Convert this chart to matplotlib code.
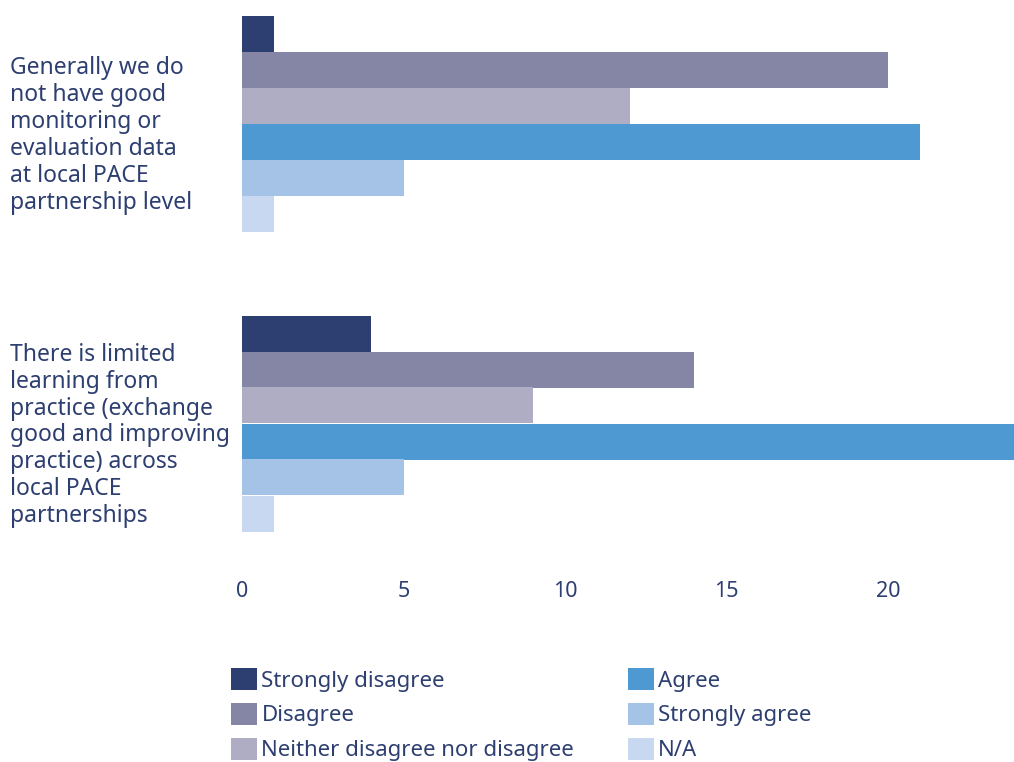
import matplotlib
matplotlib.use("Agg")
import matplotlib.pyplot as plt
from matplotlib.patches import Patch
import numpy as np

plt.rcParams['font.family'] = ['Noto Sans', 'DejaVu Sans']

categories = [
    "Generally we do\nnot have good\nmonitoring or\nevaluation data\nat local PACE\npartnership level",
    "There is limited\nlearning from\npractice (exchange\ngood and improving\npractice) across\nlocal PACE\npartnerships",
]
series = ["Strongly disagree", "Disagree", "Neither disagree nor disagree",
          "Agree", "Strongly agree", "N/A"]
values = {
    "Strongly disagree": [1, 4],
    "Disagree": [20, 14],
    "Neither disagree nor disagree": [12, 9],
    "Agree": [21, 24],
    "Strongly agree": [5, 5],
    "N/A": [1, 1],
}
xticks = [0, 5, 10, 15, 20]
colors = ["#2d3e70", "#8585a6", "#afadc4", "#4e99d1", "#a5c3e6", "#c8d8f0"]

W, H = 1014, 762
fig = plt.figure(figsize=(W/100, H/100), dpi=100)
ax_left = 242 / W
ax_top = 1.0
ax_bottom = 1 - 570 / H
ax = fig.add_axes([ax_left, ax_bottom, 1 - ax_left, ax_top - ax_bottom])

bar_h = 0.12
n = len(series)
text_color = "#2d3e70"
for i, s in enumerate(series):
    ys = np.arange(len(categories)) + (i - (n - 1) / 2) * bar_h
    ax.barh(ys, values[s], height=bar_h, color=colors[i], label=s)

ax.set_xlim(0, (W - 242) / 32.3)
ax.set_ylim(1 + (570 - 423.5) / 300, -123.5 / 300)
ax.set_xticks(xticks)
ax.set_xticklabels([str(t) for t in xticks], fontsize=15.5, color=text_color)
ax.tick_params(axis='x', length=0, pad=8)
ax.set_yticks([])
for sp in ax.spines.values():
    sp.set_visible(False)

for j, c in enumerate(categories):
    ypix = 123.5 + 300 * j + 12
    fig.text(10 / W, 1 - ypix / H, c, ha='left', va='center', fontsize=16.5,
             color=text_color, linespacing=1.16)

handles = [Patch(facecolor=colors[i], label=s) for i, s in enumerate(series)]
leg = fig.legend(handles=handles, loc='upper left', bbox_to_anchor=(231 / W, 1 - 668 / H),
                 ncol=2, frameon=False, fontsize=16, handlelength=1.17, handleheight=1.17,
                 handletextpad=0.2, labelspacing=0.5, columnspacing=2.4, borderaxespad=0,
                 borderpad=0)
for t in leg.get_texts():
    t.set_color(text_color)

fig.savefig("out.png", dpi=100)
